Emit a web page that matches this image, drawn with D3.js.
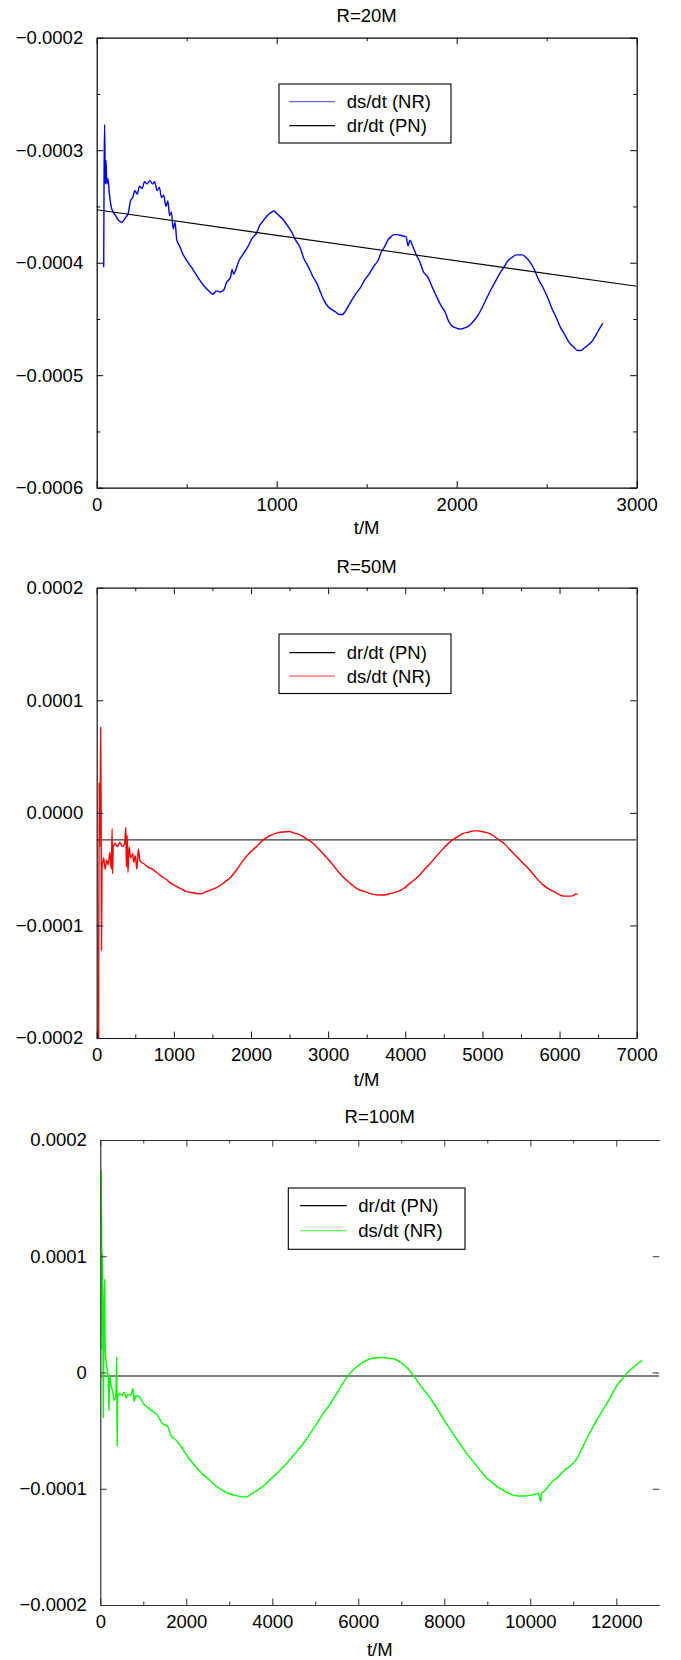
<!DOCTYPE html>
<html><head><meta charset="utf-8">
<script src="https://cdn.jsdelivr.net/npm/d3@7"></script>
<style>
body{margin:0;background:#fff;}
svg{display:block;}
text{font-family:"Liberation Sans",Arial,Helvetica,sans-serif;}
</style></head><body>
<svg id="c" width="681" height="1660"></svg>
<script>
// ---------- DATA (values in units of 1e-4) ----------
const titles = ["R=20M", "R=50M", "R=100M"];
const xAxisLabel = "t/M";

// R=20M
const ds20 = [[39,-4.04],[41,-3.2],[44,-2.77],[48,-3.3],[52,-3.09],[56,-3.30],[62,-3.25],[70,-3.38],[80,-3.50],[92,-3.55],[104,-3.58],[120,-3.62],[140,-3.64],[160,-3.60],[175,-3.56],[188,-3.45],[200,-3.42],[212,-3.36],[225,-3.39],[238,-3.32],[252,-3.34],[266,-3.28],[280,-3.30],[295,-3.27],[310,-3.30],[322,-3.28],[335,-3.36],[348,-3.33],[360,-3.42],[372,-3.40],[385,-3.50],[395,-3.45],[405,-3.58],[415,-3.55],[425,-3.70],[435,-3.64],[445,-3.80],[460,-3.85],[478,-3.92],[500,-3.98],[526,-4.04],[550,-4.10],[574,-4.16],[598,-4.21],[622,-4.25],[646,-4.28],[665,-4.25],[685,-4.26],[707,-4.24],[720,-4.18],[743,-4.13],[752,-4.06],[760,-4.10],[791,-3.98],[815,-3.92],[839,-3.86],[865,-3.78],[887,-3.74],[905,-3.67],[924,-3.63],[948,-3.58],[972,-3.55],[984,-3.54],[1005,-3.57],[1032,-3.61],[1055,-3.66],[1080,-3.72],[1105,-3.80],[1129,-3.86],[1150,-3.96],[1177,-4.04],[1200,-4.12],[1225,-4.19],[1245,-4.27],[1261,-4.33],[1285,-4.39],[1309,-4.42],[1330,-4.44],[1346,-4.46],[1365,-4.46],[1382,-4.43],[1400,-4.38],[1418,-4.33],[1442,-4.27],[1466,-4.22],[1490,-4.15],[1514,-4.10],[1540,-4.03],[1563,-3.98],[1580,-3.91],[1599,-3.86],[1617,-3.80],[1635,-3.77],[1652,-3.75],[1671,-3.75],[1695,-3.76],[1719,-3.77],[1730,-3.85],[1740,-3.80],[1755,-3.85],[1775,-3.93],[1792,-3.98],[1815,-4.08],[1840,-4.13],[1865,-4.22],[1888,-4.30],[1912,-4.38],[1936,-4.44],[1955,-4.52],[1973,-4.56],[1995,-4.58],[2021,-4.59],[2045,-4.58],[2069,-4.56],[2093,-4.52],[2117,-4.47],[2141,-4.40],[2165,-4.32],[2190,-4.24],[2214,-4.17],[2238,-4.10],[2262,-4.04],[2286,-3.98],[2310,-3.95],[2330,-3.93],[2346,-3.93],[2365,-3.93],[2382,-3.95],[2405,-3.99],[2431,-4.06],[2455,-4.15],[2479,-4.22],[2503,-4.30],[2527,-4.40],[2551,-4.48],[2575,-4.57],[2600,-4.64],[2625,-4.71],[2650,-4.75],[2672,-4.78],[2690,-4.78],[2708,-4.76],[2732,-4.73],[2756,-4.69],[2775,-4.64],[2792,-4.59],[2812,-4.54]];
const pn20 = [[0,-3.53],[3000,-4.21]];

// R=50M
const ds50 = [[25,-2.05],[32,0.27],[38,-0.3],[45,0.05],[52,0.76],[58,-0.2],[62,-1.22],[68,-0.5],[76,-0.45],[90,-0.40],[110,-0.50],[130,-0.42],[150,-0.46],[170,-0.35],[190,-0.50],[200,-0.14],[205,-0.54],[215,-0.30],[240,-0.27],[270,-0.30],[300,-0.26],[330,-0.30],[360,-0.28],[378,-0.13],[385,-0.48],[395,-0.20],[405,-0.53],[420,-0.30],[440,-0.40],[467,-0.36],[480,-0.44],[500,-0.38],[520,-0.50],[540,-0.32],[560,-0.42],[580,-0.44],[608,-0.45],[660,-0.48],[720,-0.50],[780,-0.53],[833,-0.56],[900,-0.59],[950,-0.62],[1002,-0.64],[1080,-0.67],[1170,-0.70],[1250,-0.71],[1339,-0.72],[1420,-0.70],[1500,-0.68],[1564,-0.66],[1650,-0.62],[1733,-0.575],[1820,-0.50],[1902,-0.42],[1990,-0.35],[2071,-0.30],[2160,-0.24],[2240,-0.205],[2330,-0.18],[2408,-0.17],[2493,-0.165],[2560,-0.18],[2634,-0.195],[2720,-0.23],[2803,-0.27],[2890,-0.33],[2971,-0.39],[3060,-0.46],[3140,-0.53],[3225,-0.59],[3309,-0.64],[3390,-0.68],[3478,-0.70],[3560,-0.72],[3646,-0.73],[3730,-0.73],[3815,-0.715],[3900,-0.70],[3984,-0.67],[4070,-0.62],[4153,-0.575],[4240,-0.51],[4322,-0.45],[4410,-0.38],[4490,-0.32],[4575,-0.26],[4659,-0.22],[4745,-0.185],[4828,-0.17],[4890,-0.16],[4941,-0.16],[5020,-0.17],[5110,-0.19],[5195,-0.23],[5278,-0.27],[5360,-0.33],[5447,-0.39],[5530,-0.45],[5616,-0.51],[5700,-0.58],[5785,-0.64],[5870,-0.68],[5954,-0.71],[6010,-0.73],[6066,-0.74],[6120,-0.74],[6179,-0.735],[6210,-0.72],[6235,-0.725]];
const pn50 = [[0,-0.24],[7000,-0.24]];

// R=100M
const ds100 = [[20,1.74],[30,1.2],[40,0.2],[50,1.02],[60,0.3],[71,-0.39],[85,0.5],[101,0.80],[110,0.3],[121,0.15],[151,0.05],[182,-0.03],[202,-0.33],[212,-0.05],[222,-0.02],[250,-0.12],[282,-0.15],[323,-0.24],[360,-0.20],[383,0.135],[393,-0.632],[403,-0.20],[450,-0.18],[504,-0.196],[560,-0.17],[600,-0.22],[650,-0.19],[706,-0.196],[760,-0.14],[790,-0.25],[820,-0.20],[908,-0.21],[1008,-0.27],[1100,-0.30],[1200,-0.33],[1311,-0.36],[1450,-0.44],[1560,-0.46],[1613,-0.51],[1650,-0.55],[1760,-0.58],[1916,-0.66],[2060,-0.74],[2218,-0.81],[2370,-0.87],[2521,-0.92],[2670,-0.97],[2823,-1.01],[2975,-1.04],[3126,-1.055],[3277,-1.068],[3400,-1.07],[3529,-1.04],[3680,-1.005],[3832,-0.963],[3980,-0.91],[4134,-0.858],[4285,-0.80],[4437,-0.737],[4590,-0.67],[4739,-0.602],[4890,-0.52],[5042,-0.436],[5190,-0.35],[5344,-0.271],[5500,-0.18],[5647,-0.09],[5800,-0.01],[5949,0.045],[6100,0.085],[6252,0.114],[6400,0.125],[6554,0.129],[6700,0.125],[6857,0.114],[7010,0.08],[7159,0.03],[7310,-0.04],[7462,-0.12],[7610,-0.19],[7764,-0.271],[7915,-0.36],[8067,-0.451],[8220,-0.535],[8369,-0.617],[8520,-0.695],[8672,-0.767],[8820,-0.835],[8974,-0.903],[9125,-0.95],[9277,-0.993],[9430,-1.025],[9580,-1.053],[9730,-1.062],[9882,-1.062],[10035,-1.055],[10185,-1.04],[10245,-1.108],[10260,-1.04],[10330,-1.02],[10487,-0.948],[10640,-0.90],[10790,-0.843],[10940,-0.80],[11092,-0.737],[11245,-0.62],[11395,-0.512],[11545,-0.41],[11697,-0.316],[11850,-0.22],[12000,-0.12],[12150,-0.05],[12302,0.015],[12450,0.06],[12605,0.105]];
const pn100 = [[0,-0.03],[13000,-0.03]];

// tick values and labels
const xTicks20 = [0,1000,2000,3000];
const xTickLabels20 = ["0","1000","2000","3000"];
const xMinor20 = [500,1500,2500];
const yTicks20 = [-6,-5,-4,-3,-2];
const yTickLabels20 = ["\u22120.0006","\u22120.0005","\u22120.0004","\u22120.0003","\u22120.0002"];
const yMinor20 = [-5.5,-4.5,-3.5,-2.5];

const xTicks50 = [0,1000,2000,3000,4000,5000,6000,7000];
const xTickLabels50 = ["0","1000","2000","3000","4000","5000","6000","7000"];
const xMinor50 = [500,1500,2500,3500,4500,5500,6500];
const yTicks50 = [-2,-1,0,1,2];
const yTickLabels50 = ["\u22120.0002","\u22120.0001","0.0000","0.0001","0.0002"];

const xTicks100 = [0,2000,4000,6000,8000,10000,12000];
const xTickLabels100 = ["0","2000","4000","6000","8000","10000","12000"];
const xMinor100 = [1000,3000,5000,7000,9000,11000];
const yTicks100 = [-2,-1,0,1,2];
const yTickLabels100 = ["\u22120.0002","\u22120.0001","0","0.0001","0.0002"];

const legend20 = ["ds/dt (NR)","dr/dt (PN)"];
const legend50 = ["dr/dt (PN)","ds/dt (NR)"];
const legend100 = ["dr/dt (PN)","ds/dt (NR)"];

// ---------- LAYOUT ----------
const FS = 18.5;
const panels = [
  {title:titles[0], x0:96.7, x1:636.7, y0:37.7, y1:487.7, xDom:[0,3000], yDom:[-6,-2],
   xMajor:xTicks20, xLabels:xTickLabels20, xMinor:xMinor20, yMajor:yTicks20, yLabels:yTickLabels20, yMinor:yMinor20,
   series:[{data:ds20,color:"#0000ff",w:1.4},{data:pn20,color:"#000",w:1.1}],
   legendItems:[{label:legend20[0],color:"#6a6aff"},{label:legend20[1],color:"#000"}],
   L:{x:279,y:84,w:172,h:59,row0:101.7,dy:24,lx0:289.3,lx1:335,tx:346.7},
   titleY:21.7, xlabY:534, rightBorder:true, axisColor:"#000"},
  {title:titles[1], x0:96.7, x1:636.7, y0:587.7, y1:1038, xDom:[0,7000], yDom:[-2,2],
   xMajor:xTicks50, xLabels:xTickLabels50, xMinor:xMinor50, yMajor:yTicks50, yLabels:yTickLabels50, yMinor:[],
   series:[{data:pn50,color:"#3a3a3a",w:1.4},{data:ds50,color:"#ff0000",w:1.4}],
   legendItems:[{label:legend50[0],color:"#000"},{label:legend50[1],color:"#ff5c5c"}],
   L:{x:279,y:634,w:172,h:59.5,row0:652.7,dy:23.5,lx0:289.3,lx1:335,tx:346.7},
   titleY:572.7, xlabY:1085.5, rightBorder:true, axisColor:"#111"},
  {title:titles[2], x0:100.3, x1:659.3, y0:1140, y1:1605, xDom:[0,13000], yDom:[-2,2],
   xMajor:xTicks100, xLabels:xTickLabels100, xMinor:xMinor100, yMajor:yTicks100, yLabels:yTickLabels100, yMinor:[],
   series:[{data:pn100,color:"#000",w:1.1},{data:ds100,color:"#00ff00",w:1.4}],
   legendItems:[{label:legend100[0],color:"#000"},{label:legend100[1],color:"#66ff66"}],
   L:{x:288.3,y:1188,w:176.7,h:61.3,row0:1205.7,dy:25,lx0:300,lx1:346.7,tx:358.3},
   titleY:1123.3, xlabY:1655.6, rightBorder:false, axisColor:"#333"}
];

const svg = d3.select("#c");
const MAJ = 6.5, MIN = 3.5;

panels.forEach((p, pi) => {
  const x = d3.scaleLinear().domain(p.xDom).range([p.x0, p.x1]);
  const y = d3.scaleLinear().domain(p.yDom).range([p.y1, p.y0]);
  const g = svg.append("g");

  svg.append("clipPath").attr("id", "clip" + pi).append("rect")
    .attr("x", p.x0).attr("y", p.y0).attr("width", p.x1 - p.x0).attr("height", p.y1 - p.y0);

  const line = d3.line().x(d => x(d[0])).y(d => y(d[1])).curve(d3.curveMonotoneX);
  p.series.forEach(s => {
    g.append("path").datum(s.data).attr("d", line)
      .attr("fill", "none").attr("stroke", s.color).attr("stroke-width", s.w)
      .attr("stroke-linejoin", "round")
      .attr("clip-path", `url(#clip${pi})`);
  });

  const style = sel => {
    sel.selectAll("path.domain").attr("stroke", p.axisColor).attr("stroke-width", 1.2);
    sel.selectAll(".tick line").attr("stroke", p.axisColor).attr("stroke-width", 1);
    sel.selectAll("text").attr("fill", "#000").style("font-size", FS + "px")
      .style("font-family", '"Liberation Sans",Arial,Helvetica,sans-serif');
    sel.attr("font-size", null).attr("font-family", null);
  };

  // bottom
  g.append("g").attr("transform", `translate(0,${p.y1})`)
    .call(d3.axisBottom(x).tickValues(p.xMajor).tickFormat((d, i) => p.xLabels[i])
      .tickSizeInner(-MAJ).tickSizeOuter(0).tickPadding(9.9)).call(style);
  g.append("g").attr("transform", `translate(0,${p.y1})`)
    .call(d3.axisBottom(x).tickValues(p.xMinor).tickFormat("").tickSizeInner(-MIN).tickSizeOuter(0))
    .call(s => s.select(".domain").remove()).call(style);
  // top
  g.append("g").attr("transform", `translate(0,${p.y0})`)
    .call(d3.axisTop(x).tickValues(p.xMajor).tickFormat("").tickSizeInner(-MAJ).tickSizeOuter(0)).call(style);
  g.append("g").attr("transform", `translate(0,${p.y0})`)
    .call(d3.axisTop(x).tickValues(p.xMinor).tickFormat("").tickSizeInner(-MIN).tickSizeOuter(0))
    .call(s => s.select(".domain").remove()).call(style);
  // left
  g.append("g").attr("transform", `translate(${p.x0},0)`)
    .call(d3.axisLeft(y).tickValues(p.yMajor).tickFormat((d, i) => p.yLabels[i])
      .tickSizeInner(-MAJ).tickSizeOuter(0).tickPadding(13.5)).call(style);
  g.append("g").attr("transform", `translate(${p.x0},0)`)
    .call(d3.axisLeft(y).tickValues(p.yMinor).tickFormat("").tickSizeInner(-MIN).tickSizeOuter(0))
    .call(s => s.select(".domain").remove()).call(style);
  // right
  const r = g.append("g").attr("transform", `translate(${p.x1},0)`)
    .call(d3.axisRight(y).tickValues(p.yMajor).tickFormat("").tickSizeInner(-MAJ).tickSizeOuter(0)).call(style);
  if (!p.rightBorder) r.select(".domain").remove();
  g.append("g").attr("transform", `translate(${p.x1},0)`)
    .call(d3.axisRight(y).tickValues(p.yMinor).tickFormat("").tickSizeInner(-MIN).tickSizeOuter(0))
    .call(s => s.select(".domain").remove()).call(style);

  // title and x label
  const cx = (p.x0 + p.x1) / 2;
  g.append("text").attr("x", cx).attr("y", p.titleY).attr("text-anchor", "middle")
    .style("font-size", FS + "px").text(p.title);
  g.append("text").attr("x", cx).attr("y", p.xlabY).attr("text-anchor", "middle")
    .style("font-size", FS + "px").text(xAxisLabel);

  // legend
  const L = p.L;
  g.append("rect").attr("x", L.x).attr("y", L.y).attr("width", L.w).attr("height", L.h)
    .attr("fill", "#fff").attr("stroke", "#000").attr("stroke-width", 1.1);
  p.legendItems.forEach((it, i) => {
    const yy = L.row0 + i * L.dy;
    g.append("line").attr("x1", L.lx0).attr("x2", L.lx1).attr("y1", yy).attr("y2", yy)
      .attr("stroke", it.color).attr("stroke-width", 1.2);
    g.append("text").attr("x", L.tx).attr("y", yy + 0.36 * FS)
      .style("font-size", FS + "px").text(it.label);
  });
});
</script></body></html>
